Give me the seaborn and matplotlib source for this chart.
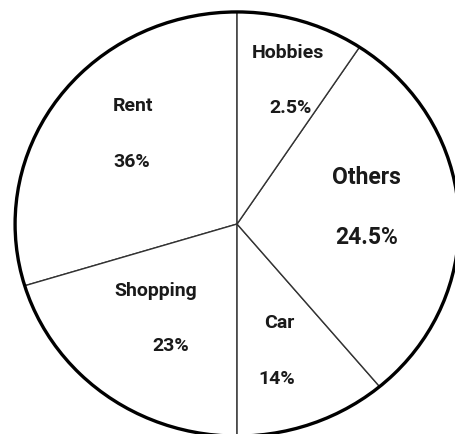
import matplotlib
matplotlib.use('Agg')
import matplotlib.pyplot as plt
import seaborn as sns

# slice sizes as drawn in the picture (counter-clockwise from 12 o'clock)
categories = ['Rent', 'Shopping', 'Car', 'Others', 'Hobbies']
drawn_share = [29.7, 20.3, 11.1, 29.6, 9.3]
pct_labels = ['36%', '23%', '14%', '24.5%', '2.5%']

sns.set_style('white')
plt.rcParams['font.family'] = ['Roboto', 'DejaVu Sans']

fig = plt.figure(figsize=(4.55, 4.35), dpi=100)
ax = fig.add_axes([0, 0, 1, 1])

ax.pie(drawn_share, startangle=90, counterclock=True, colors=['white'] * len(drawn_share),
       wedgeprops=dict(edgecolor='#333333', linewidth=1.0))
ax.add_patch(plt.Circle((0, 0), 1, fill=False, edgecolor='black', linewidth=2.4))

ax.set_aspect('auto')
ax.set_xlim(-1.068, 0.982)
ax.set_ylim(-0.99, 1.061)
ax.axis('off')

# label placement (name position, percent position, font size)
label_pos = {
    'Rent': ((-0.468, 0.561), (-0.473, 0.297), 14),
    'Shopping': ((-0.365, -0.31), (-0.297, -0.571), 14),
    'Car': ((0.189, -0.462), (0.18, -0.726), 14),
    'Others': ((0.585, 0.222), (0.585, -0.057), 16.5),
    'Hobbies': ((0.23, 0.811), (0.239, 0.552), 14),
}
for name, pct in zip(categories, pct_labels):
    (nx, ny), (px, py), fs = label_pos[name]
    ax.text(nx, ny, name, ha='center', va='center', fontsize=fs, fontweight='bold', color='#1a1a1a')
    ax.text(px, py, pct, ha='center', va='center', fontsize=fs, fontweight='bold', color='#1a1a1a')

plt.savefig('out.png', dpi=100)
